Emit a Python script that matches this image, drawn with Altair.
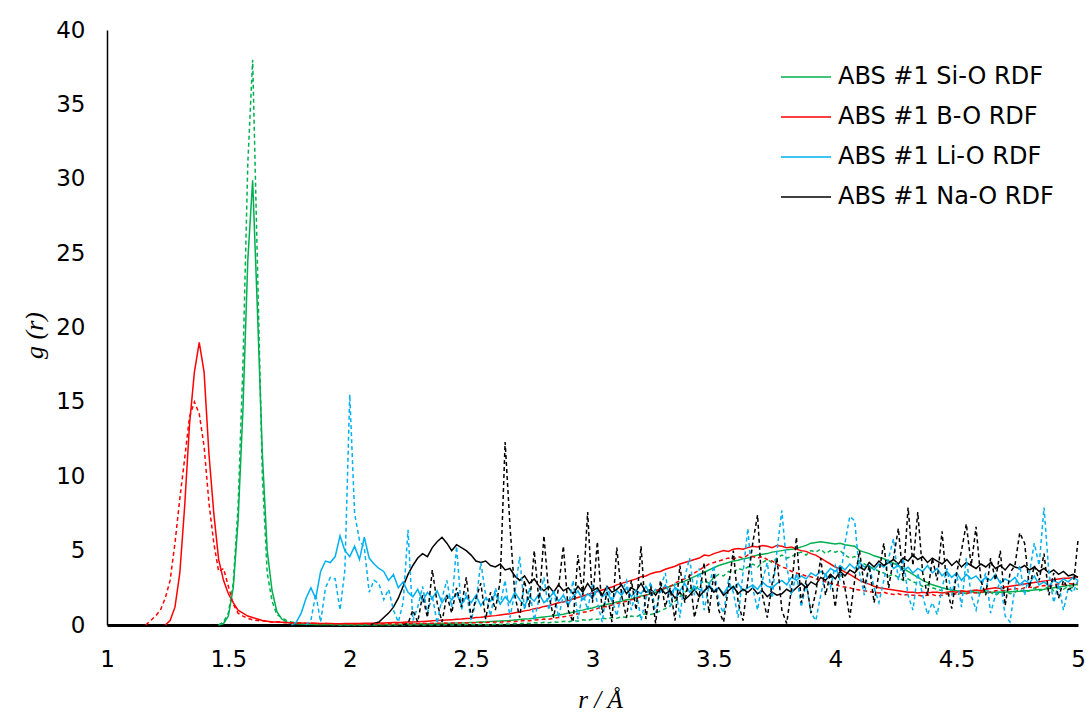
import altair as alt
import pandas as pd

STEP = 0.02

SERIES = ["ABS #1 Si-O RDF", "ABS #1 B-O RDF", "ABS #1 Li-O RDF", "ABS #1 Na-O RDF"]
COLORS = ["#00B050", "#FF0000", "#00B0F0", "#000000"]

# Si-O, solid (starts at r = 1.46)
si_solid_start = 1.46
si_solid = [
    0, 0.1, 0.6, 2.5, 7.0, 14.5, 24.5, 29.9, 21.0, 11.5,
    5.0, 2.3, 0.9, 0.4, 0.2, 0.1, 0.08, 0.06, 0.05, 0.05,
    0.04, 0.04, 0.03, 0.03, 0.03, 0.02, 0.02, 0.02, 0.02, 0.02,
    0.02, 0.02, 0.03, 0.03, 0.03, 0.04, 0.04, 0.05, 0.05, 0.06,
    0.06, 0.07, 0.08, 0.08, 0.09, 0.1, 0.1, 0.11, 0.12, 0.13,
    0.14, 0.15, 0.17, 0.18, 0.2, 0.21, 0.23, 0.25, 0.27, 0.29,
    0.31, 0.34, 0.37, 0.4, 0.42, 0.46, 0.5, 0.54, 0.58, 0.62,
    0.68, 0.72, 0.8, 0.85, 0.95, 1.0, 1.1, 1.15, 1.25, 1.3,
    1.4, 1.45, 1.55, 1.6, 1.7, 1.75, 1.85, 1.95, 2.0, 2.1,
    2.2, 2.35, 2.45, 2.6, 2.7, 2.85, 2.95, 3.1, 3.25, 3.4,
    3.55, 3.7, 3.85, 4.0, 4.1, 4.2, 4.3, 4.35, 4.45, 4.5,
    4.6, 4.7, 4.75, 4.8, 4.9, 4.95, 5.0, 5.05, 5.1, 5.15,
    5.25, 5.35, 5.5, 5.55, 5.6, 5.55, 5.5, 5.45, 5.5, 5.4,
    5.35, 5.3, 5.0, 4.9, 4.8, 4.65, 4.55, 4.45, 4.3, 4.15,
    4.0, 3.8, 3.6, 3.4, 3.2, 3.0, 2.85, 2.7, 2.6, 2.5,
    2.42, 2.35, 2.3, 2.27, 2.24, 2.22, 2.2, 2.2, 2.18, 2.2,
    2.2, 2.22, 2.2, 2.23, 2.25, 2.27, 2.3, 2.32, 2.35, 2.38,
    2.4, 2.45, 2.5, 2.55, 2.6, 2.65, 2.7, 2.7,
]

# Si-O, dashed (starts at r = 1.46)
si_dash_start = 1.46
si_dash = [
    0, 0.2, 0.8, 2.8, 8.0, 17.5, 31.0, 38.0, 24.0, 10.0,
    3.5, 1.6, 0.7, 0.5, 0.3, 0.2, 0.15, 0.1, 0.1, 0.05,
    0.05, 0.03, 0.05, 0.02, 0.03, 0.0, 0.02, 0.0, 0.03, 0.0,
    0.0, 0.02, 0.0, 0.0, 0.03, 0.0, 0.0, 0.02, 0.0, 0.0,
    0.0, 0.03, 0.0, 0.0, 0.02, 0.0, 0.0, 0.03, 0.0, 0.02,
    0.0, 0.03, 0.05, 0.0, 0.05, 0.02, 0.0, 0.06, 0.04, 0.08,
    0.05, 0.1, 0.08, 0.12, 0.1, 0.15, 0.12, 0.18, 0.15, 0.2,
    0.18, 0.25, 0.2, 0.3, 0.25, 0.35, 0.3, 0.4, 0.38, 0.45,
    0.42, 0.5, 0.45, 0.55, 0.5, 0.6, 0.55, 0.7, 0.75, 0.7,
    0.8, 0.95, 1.1, 1.3, 1.6, 1.9, 2.2, 2.5, 2.3, 2.7,
    3.0, 2.8, 3.2, 3.4, 3.3, 3.6, 3.5, 3.8, 3.7, 3.9,
    4.1, 3.9, 4.2, 4.4, 4.2, 4.5, 4.7, 4.5, 4.6, 4.8,
    4.9, 4.7, 5.0, 4.9, 5.1, 4.8, 5.0, 4.9, 5.0, 4.7,
    4.5, 4.6, 4.3, 4.1, 3.9, 3.8, 3.6, 3.5, 3.3, 3.4,
    3.2, 3.0, 3.1, 2.9, 2.8, 2.6, 2.7, 2.5, 2.4, 2.3,
    2.1, 2.2, 2.0, 2.2, 2.1, 2.3, 2.2, 2.1, 2.3, 2.2,
    2.0, 2.2, 2.3, 2.1, 2.2, 2.4, 2.2, 2.3, 2.5, 2.3,
    2.4, 2.6, 2.3, 2.5, 2.4, 2.6, 2.5, 2.4,
]

# B-O, solid (starts at r = 1.24)
b_solid_start = 1.24
b_solid = [
    0, 0.3, 1.2, 3.5, 8.0, 13.5, 17.0, 19.0, 17.0, 11.5,
    7.5, 4.4, 3.0, 2.1, 1.5, 1.0, 0.8, 0.6, 0.5, 0.4,
    0.3, 0.25, 0.2, 0.2, 0.18, 0.16, 0.15, 0.14, 0.13, 0.12,
    0.12, 0.11, 0.1, 0.1, 0.1, 0.09, 0.09, 0.1, 0.1, 0.1,
    0.1, 0.11, 0.12, 0.12, 0.13, 0.14, 0.15, 0.16, 0.17, 0.18,
    0.2, 0.21, 0.22, 0.24, 0.26, 0.28, 0.3, 0.32, 0.34, 0.36,
    0.38, 0.4, 0.43, 0.46, 0.5, 0.52, 0.56, 0.6, 0.63, 0.68,
    0.72, 0.76, 0.82, 0.88, 0.95, 1.0, 1.1, 1.15, 1.25, 1.3,
    1.4, 1.5, 1.55, 1.65, 1.75, 1.85, 1.95, 2.05, 2.15, 2.25,
    2.35, 2.45, 2.55, 2.7, 2.8, 2.9, 3.0, 3.1, 3.25, 3.3,
    3.45, 3.55, 3.6, 3.75, 3.85, 3.95, 4.1, 4.2, 4.3, 4.4,
    4.5, 4.7, 4.65, 4.8, 4.9, 5.0, 4.95, 5.1, 5.15, 5.1,
    5.2, 5.3, 5.25, 5.35, 5.3, 5.2, 5.35, 5.3, 5.2, 5.25,
    5.1, 5.0, 4.95, 4.8, 4.7, 4.5, 4.3, 4.1, 3.9, 3.75,
    3.55, 3.4, 3.2, 3.0, 2.85, 2.75, 2.6, 2.5, 2.45, 2.4,
    2.35, 2.3, 2.25, 2.2, 2.2, 2.15, 2.2, 2.15, 2.2, 2.2,
    2.15, 2.2, 2.25, 2.2, 2.3, 2.25, 2.3, 2.35, 2.3, 2.4,
    2.45, 2.5, 2.45, 2.55, 2.6, 2.65, 2.7, 2.75, 2.8, 2.85,
    2.9, 2.95, 3.0, 3.05, 3.1, 3.15, 3.15, 3.2, 3.25,
]

# B-O, dashed (starts at r = 1.16)
b_dash_start = 1.16
b_dash = [
    0, 0.3, 0.6, 1.0, 1.8, 3.0, 5.5, 8.5, 11.2, 14.0,
    15.0, 14.2, 12.0, 8.2, 5.5, 3.6, 3.8, 2.6, 1.4, 0.8,
    0.6, 0.45, 0.35, 0.3, 0.28, 0.25, 0.2, 0.22, 0.18, 0.15,
    0.15, 0.12, 0.13, 0.1, 0.12, 0.1, 0.08, 0.1, 0.08, 0.09,
    0.08, 0.07, 0.09, 0.06, 0.08, 0.07, 0.06, 0.08, 0.07, 0.06,
    0.08, 0.06, 0.07, 0.09, 0.08, 0.1, 0.09, 0.11, 0.1, 0.12,
    0.11, 0.13, 0.12, 0.14, 0.13, 0.15, 0.14, 0.16, 0.15, 0.17,
    0.16, 0.18, 0.2, 0.19, 0.22, 0.24, 0.23, 0.27, 0.3, 0.28,
    0.33, 0.35, 0.4, 0.38, 0.45, 0.5, 0.55, 0.6, 0.68, 0.75,
    0.85, 0.9, 1.0, 1.1, 1.2, 1.25, 1.35, 1.45, 1.5, 1.6,
    1.7, 1.8, 1.9, 2.0, 2.1, 2.3, 2.4, 2.5, 2.6, 2.8,
    3.0, 3.1, 3.3, 3.5, 3.7, 3.9, 4.1, 4.2, 4.3, 4.4,
    4.5, 4.4, 4.6, 4.5, 4.7, 4.6, 4.5, 4.6, 4.4, 4.3,
    4.1, 3.9, 3.8, 3.6, 3.5, 3.4, 3.3, 3.25, 3.1, 3.0,
    2.9, 2.8, 2.75, 2.6, 2.55, 2.5, 2.4, 2.35, 2.3, 2.25,
    2.2, 2.15, 2.2, 2.1, 2.05, 2.1, 2.0, 2.05, 2.0, 2.0,
    1.95, 2.0, 2.05, 1.95, 2.0, 2.1, 2.05, 2.1, 2.15, 2.1,
    2.2, 2.15, 2.2, 2.25, 2.2, 2.3, 2.35, 2.3, 2.4, 2.45,
    2.4, 2.5, 2.55, 2.5, 2.6, 2.65, 2.6, 2.7, 2.75, 2.7,
    2.8, 2.75, 2.8,
]

# Li-O, solid (starts at r = 1.76)
li_solid_start = 1.76
li_solid = [
    0, 0.2, 0.8, 1.8, 2.5, 1.8, 3.6, 4.3, 4.2, 4.6,
    6.0, 5.0, 4.6, 5.3, 4.4, 5.9, 4.5, 4.1, 3.8, 3.6,
    3.0, 3.4, 2.5, 2.9, 2.2, 1.9, 2.4, 1.6, 2.2, 1.8,
    2.3, 1.5, 2.0, 1.7, 2.1, 1.4, 1.9, 1.5, 2.0, 1.3,
    1.8, 1.6, 2.1, 1.4, 1.9, 1.5, 2.2, 1.7, 1.3, 1.9,
    1.6, 2.1, 1.5, 1.8, 2.2, 1.6, 2.0, 1.4, 1.9, 2.3,
    1.7, 2.1, 1.8, 2.4, 1.9, 2.2, 1.6, 2.3, 2.0, 2.5,
    1.9, 2.3, 2.1, 2.6, 2.0, 2.4, 2.2, 2.7, 2.1, 2.5,
    2.3, 2.8, 2.2, 2.6, 2.4, 2.2, 2.7, 2.3, 2.5, 2.1,
    2.6, 2.4, 2.8, 2.3, 2.5, 2.7, 2.4, 2.9, 2.6, 2.5,
    2.8, 3.0, 2.7, 3.2, 3.0, 3.3, 3.1, 3.5, 3.3, 3.6,
    3.4, 3.8, 3.6, 4.0, 3.7, 4.1, 3.8, 4.2, 3.9, 4.0,
    3.7, 4.1, 3.9, 4.3, 3.8, 4.0, 3.6, 3.9, 3.5, 3.8,
    3.6, 4.0, 3.5, 3.8, 3.3, 3.6, 3.2, 3.5, 3.0, 3.4,
    3.1, 3.3, 2.9, 3.2, 3.0, 3.4, 2.8, 3.1, 2.9, 3.2,
    2.7, 3.0, 2.8, 3.3, 2.7, 2.9, 2.6, 3.0, 2.8, 3.1,
    2.9, 3.2, 3.0,
]

# Li-O, dashed (starts at r = 1.82)
li_dash_start = 1.82
li_dash = [
    0, 0.3, 2.1, 0.2, 2.5, 3.2, 3.1, 1.0, 3.7, 15.5,
    7.5, 5.7, 5.2, 2.2, 3.0, 2.8, 1.7, 2.4, 1.0, 0.2,
    1.5, 6.4, 0.3, 1.2, 2.6, 0.8, 2.0, 0.1, 1.8, 3.0,
    1.2, 5.3, 1.0, 2.2, 0.3, 1.6, 4.2, 2.0, 0.6, 2.5,
    1.4, 3.0, 0.5, 2.2, 4.6, 1.0, 2.5, 0.3, 1.8, 3.2,
    1.0, 2.4, 0.5, 2.0, 1.2, 3.0, 0.4, 2.2, 1.0, 2.8,
    1.5, 0.2, 2.5, 1.8, 0.6, 2.2, 3.0, 1.0, 2.4, 0.3,
    1.8, 2.9, 0.8, 2.5, 3.5, 1.2, 2.8, 0.5, 3.2, 4.5,
    2.0, 3.8, 1.0, 2.6, 4.0, 1.5, 0.8, 3.0, 2.2, 0.5,
    3.5, 6.5, 2.5, 1.0, 3.0, 4.2, 1.8, 5.0, 7.7, 4.0,
    2.0, 3.5, 1.2, 2.8, 0.8, 0.3, 2.0, 3.5, 2.5, 4.0,
    3.0, 5.5, 7.3, 7.0, 3.5, 2.0, 4.0, 2.5, 1.5, 3.0,
    4.5, 5.8, 3.0, 4.5, 2.0, 1.0, 3.5, 2.0, 0.7, 1.5,
    0.7, 2.5, 3.8, 2.0, 3.5, 1.2, 4.5, 2.0, 1.0, 2.5,
    3.5, 0.8, 2.0, 3.0, 0.6, 0.2, 2.5, 4.0, 2.0, 3.5,
    5.5, 4.0, 7.9, 3.5, 1.5, 2.8, 1.0, 2.5, 2.2, 3.0,
]

# Na-O, solid (starts at r = 2.08)
na_solid_start = 2.08
na_solid = [
    0, 0.1, 0.2, 0.5, 0.8, 1.2, 1.8, 2.6, 3.4, 4.0,
    4.5, 4.8, 4.6, 5.2, 5.6, 5.9, 5.5, 5.0, 5.4, 5.2,
    5.0, 4.7, 4.3, 4.2, 4.3, 4.0, 3.9, 4.1, 3.7, 3.8,
    3.3, 3.0, 3.3, 2.8, 3.1, 2.6, 2.3, 2.6, 2.2, 2.7,
    2.3, 2.5, 2.1, 2.6, 2.2, 2.8, 2.3, 2.5, 2.0, 2.6,
    2.2, 2.4, 2.7, 2.1, 2.5, 2.3, 2.8, 2.2, 2.4, 2.0,
    2.5, 2.1, 2.3, 1.8, 2.2, 1.7, 2.0, 2.4, 1.9, 2.3,
    2.6, 2.2, 2.5, 2.0, 2.3, 2.6, 2.1, 2.4, 2.2, 2.5,
    2.1, 2.3, 1.9, 2.2, 2.0, 2.1, 2.4, 2.2, 2.5, 2.8,
    2.5, 2.9, 2.7, 3.2, 3.0, 3.4, 3.1, 3.6, 3.3, 3.7,
    3.5, 3.9, 3.7, 4.2, 3.9, 4.3, 4.0, 4.2, 4.4, 4.1,
    4.5, 4.3, 4.7, 4.4, 4.6, 4.2, 4.5, 4.3, 4.1, 4.4,
    4.0, 4.3, 3.9, 4.2, 4.0, 3.8, 4.1, 3.9, 4.2, 3.8,
    4.0, 3.7, 4.1, 3.9, 3.8, 4.0, 3.7, 3.9, 3.6, 3.8,
    3.5, 3.7, 3.4, 3.6, 3.3, 3.4, 3.2,
]

# Na-O, dashed (starts at r = 2.22)
na_dash_start = 2.22
na_dash = [
    0, 0.1, 1.0, 0.2, 2.0, 0.5, 3.7, 1.5, 0.2, 2.0,
    0.8, 2.5, 1.2, 3.2, 0.5, 1.8, 2.8, 0.4, 2.2, 1.0,
    3.0, 12.3, 6.7, 2.0, 0.5, 3.0, 1.2, 5.0, 1.5, 6.0,
    2.0, 0.5, 2.5, 5.3, 1.0, 0.2, 4.7, 2.0, 7.6, 1.5,
    5.6, 0.8, 2.2, 0.2, 5.2, 2.0, 0.5, 3.0, 1.0, 5.3,
    0.4, 2.6, 0.1, 3.0, 1.2, 2.5, 0.3, 4.0, 1.5, 3.4,
    0.5, 2.0, 4.2, 0.8, 3.5, 1.0, 0.2, 2.5, 5.0, 1.5,
    0.3, 3.0, 5.5, 7.4, 2.0, 0.5, 2.8, 4.5, 1.0, 0.1,
    2.5, 5.9, 1.5, 3.0, 0.8, 2.2, 4.5, 2.0, 3.5, 1.2,
    4.0, 2.5, 0.5, 3.0, 5.0, 2.5, 4.0, 1.5, 3.5, 5.5,
    2.5, 4.5, 6.5, 3.0, 7.9, 4.0, 7.6, 3.5, 2.0, 4.5,
    3.0, 6.3, 2.5, 1.1, 3.5, 5.0, 6.8, 4.0, 6.6, 3.0,
    2.0, 4.5, 3.0, 5.0, 1.3, 3.5, 4.0, 6.2, 5.5, 2.5,
    4.0, 3.0, 4.8, 2.0, 3.5, 1.8, 3.0, 2.4, 2.5, 5.7,
]

X_TICKS = [1, 1.5, 2, 2.5, 3, 3.5, 4, 4.5, 5]
Y_TICKS = [0, 5, 10, 15, 20, 25, 30, 35, 40]


def frame(name, start, values, order):
    return pd.DataFrame({
        "r": [round(start + STEP * i, 2) for i in range(len(values))],
        "g": values,
        "series": name,
        "order": order,
    })


solid_df = pd.concat([
    frame(SERIES[0], si_solid_start, si_solid, 0),
    frame(SERIES[1], b_solid_start, b_solid, 1),
    frame(SERIES[2], li_solid_start, li_solid, 2),
    frame(SERIES[3], na_solid_start, na_solid, 3),
])
dash_df = pd.concat([
    frame(SERIES[0], si_dash_start, si_dash, 0),
    frame(SERIES[1], b_dash_start, b_dash, 1),
    frame(SERIES[2], li_dash_start, li_dash, 2),
    frame(SERIES[3], na_dash_start, na_dash, 3),
])

x_enc = alt.X(
    "r:Q",
    scale=alt.Scale(domain=[1, 5], nice=False, zero=False),
    axis=alt.Axis(
        values=X_TICKS, format="~g", grid=False, ticks=False,
        domainColor="#000000", domainWidth=3,
        labelFont="DejaVu Sans", labelFontSize=23, labelColor="#000000",
        labelPadding=23, labelFlush=False,
        title="r / Å", titleFont="Liberation Serif", titleFontStyle="italic",
        titleFontWeight="normal", titleFontSize=25, titleColor="#000000",
        titleX=493, titleY=74, titleBaseline="middle", titleAlign="center",
    ),
)
y_enc = alt.Y(
    "g:Q",
    scale=alt.Scale(domain=[0, 40], nice=False),
    axis=alt.Axis(
        values=Y_TICKS, grid=False, ticks=False,
        domainColor="#000000", domainWidth=1.5,
        labelFont="DejaVu Sans", labelFontSize=23, labelColor="#000000",
        labelPadding=22, labelFlush=False,
        title="g (r)", titleFont="Liberation Serif", titleFontStyle="italic",
        titleFontWeight="normal", titleFontSize=26, titleColor="#000000",
        titleX=-73, titleY=305, titleAngle=270, titleBaseline="middle",
        titleAlign="center",
    ),
)
color_enc = alt.Color(
    "series:N",
    scale=alt.Scale(domain=SERIES, range=COLORS),
    legend=alt.Legend(
        title=None, orient="none", legendX=707, legendY=35,
        symbolType="M-9,0H1", symbolSize=100, symbolStrokeWidth=1.5,
        labelFont="DejaVu Sans", labelFontSize=24, labelColor="#000000",
        labelOffset=0, rowPadding=16, padding=0, labelLimit=400,
    ),
)

solid = alt.Chart(solid_df).mark_line(strokeWidth=1.5).encode(
    x=x_enc, y=y_enc, color=color_enc, detail="series:N", order="r:Q"
)
dashed = alt.Chart(dash_df).mark_line(strokeWidth=1.5, strokeDash=[4, 3]).encode(
    x=x_enc, y=y_enc, color=color_enc, detail="series:N", order="r:Q"
)

chart = alt.layer(solid, dashed).properties(
    width=971, height=595,
    autosize=alt.AutoSizeParams(type="none"),
    padding={"left": 107, "top": 30, "right": 8, "bottom": 88},
    background="#ffffff",
).configure_view(stroke=None)

chart.save("out.html", embed_options={"renderer": "svg", "actions": False})
